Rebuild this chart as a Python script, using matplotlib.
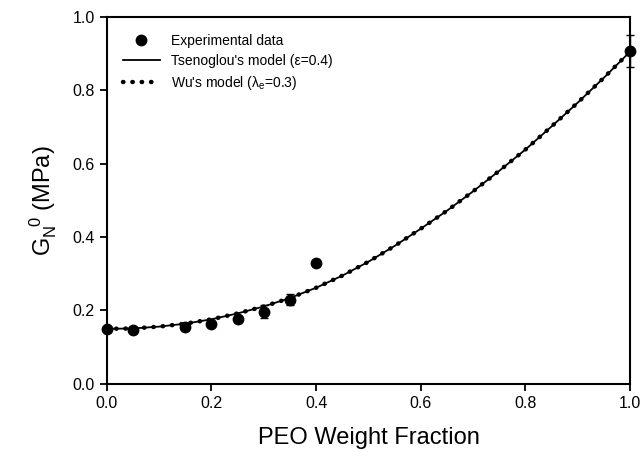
import matplotlib.pyplot as plt

plt.rcParams['font.family'] = 'Liberation Sans'
plt.rcParams['mathtext.fontset'] = 'custom'
plt.rcParams['mathtext.rm'] = 'Liberation Sans'
plt.rcParams['mathtext.it'] = 'Liberation Sans'

# experimental data
x_exp = [0.0, 0.05, 0.15, 0.2, 0.25, 0.3, 0.35, 0.4, 1.0]
g_exp = [0.150, 0.147, 0.154, 0.163, 0.176, 0.197, 0.229, 0.329, 0.907]
g_err = [0.0, 0.0, 0.0, 0.0, 0.006, 0.018, 0.015, 0.0, 0.044]

# model curves
x_mod = [0.0, 0.05, 0.1, 0.15, 0.2, 0.25, 0.3, 0.35, 0.4, 0.45, 0.5,
         0.55, 0.6, 0.65, 0.7, 0.75, 0.8, 0.85, 0.9, 0.95, 1.0]
g_tsen = [0.150, 0.151, 0.156, 0.164, 0.176, 0.192, 0.211, 0.234, 0.262, 0.295, 0.333,
          0.376, 0.423, 0.472, 0.525, 0.581, 0.639, 0.702, 0.767, 0.835, 0.906]
g_wu = [0.150, 0.151, 0.156, 0.164, 0.176, 0.192, 0.211, 0.234, 0.262, 0.295, 0.333,
        0.376, 0.423, 0.472, 0.525, 0.581, 0.639, 0.702, 0.767, 0.835, 0.906]

fig = plt.figure(figsize=(6.43, 4.63), dpi=100)
ax = fig.add_axes([0.166, 0.171, 0.814, 0.792])

ax.errorbar(x_exp, g_exp, yerr=g_err, fmt='none', ecolor='black',
            elinewidth=1, capsize=3, capthick=1, clip_on=False, zorder=4)
ax.plot(x_exp, g_exp, 'o', color='black', ms=7.5, clip_on=False, zorder=5,
        label='Experimental data')
ax.plot(x_mod, g_tsen, '-', color='black', lw=1.3, label="Tsenoglou's model (\u03b5=0.4)")
ax.plot(x_mod, g_wu, color='black', lw=3.2, linestyle=(0, (0.1, 2.0)),
        dash_capstyle='round', label="Wu's model ($\\lambda_e$=0.3)")

ax.set_xlim(0, 1.0)
ax.set_ylim(0, 1.0)
ax.set_xticks([0.0, 0.2, 0.4, 0.6, 0.8, 1.0])
ax.set_yticks([0.0, 0.2, 0.4, 0.6, 0.8, 1.0])
ax.set_xticklabels(['0.0', '0.2', '0.4', '0.6', '0.8', '1.0'])
ax.set_yticklabels(['0.0', '0.2', '0.4', '0.6', '0.8', '1.0'])
ax.tick_params(direction='out', length=5, width=1.3, labelsize=11.5)
for s in ax.spines.values():
    s.set_linewidth(1.5)

ax.set_xlabel('PEO Weight Fraction', fontsize=17, labelpad=12)
ax.set_ylabel('$G_N^{\\ \\ 0}$ (MPa)', fontsize=17, labelpad=10)

ax.legend(loc='upper left', frameon=False, fontsize=10, handlelength=2.6,
          borderaxespad=0.8, labelspacing=0.45)

fig.savefig('out.png', dpi=100)
